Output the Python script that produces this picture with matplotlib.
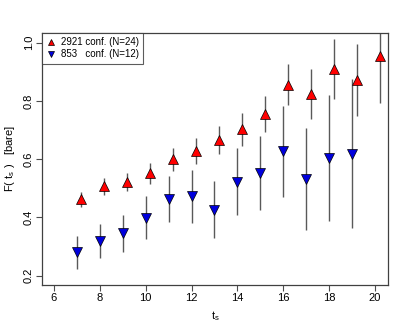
import matplotlib
matplotlib.use("Agg")
import matplotlib.pyplot as plt

plt.rcParams["font.family"] = ["Liberation Sans", "DejaVu Sans"]

# 2921 configurations, N=24
x_big = [7.2, 8.2, 9.2, 10.2, 11.2, 12.2, 13.2, 14.2, 15.2, 16.2, 17.2, 18.2, 19.2, 20.2]
y_big = [0.463, 0.507, 0.522, 0.551, 0.599, 0.629, 0.666, 0.702, 0.754, 0.855, 0.823, 0.910, 0.871, 0.955]
e_big = [0.026, 0.030, 0.031, 0.035, 0.040, 0.045, 0.048, 0.056, 0.062, 0.070, 0.085, 0.104, 0.124, 0.161]

# 853 configurations, N=12
x_small = [7, 8, 9, 10, 11, 12, 13, 14, 15, 16, 17, 18, 19]
y_small = [0.280, 0.318, 0.345, 0.399, 0.464, 0.472, 0.426, 0.523, 0.552, 0.627, 0.532, 0.603, 0.619]
e_small = [0.057, 0.058, 0.064, 0.074, 0.079, 0.092, 0.098, 0.115, 0.127, 0.156, 0.175, 0.216, 0.256]

fig = plt.figure(figsize=(4.09, 3.27), dpi=100)
ax = fig.add_axes([0.1027, 0.1284, 0.846, 0.7706])

ax.errorbar(x_big, y_big, yerr=e_big, fmt="none", ecolor="0.35", elinewidth=1.0, capsize=0)
ax.errorbar(x_small, y_small, yerr=e_small, fmt="none", ecolor="0.35", elinewidth=1.0, capsize=0)
ax.plot(x_big, y_big, "^", color="#ff0000", markeredgecolor="black", markeredgewidth=0.5,
        markersize=7.2, label="2921 conf. (N=24)")
ax.plot(x_small, y_small, "v", color="#0000dd", markeredgecolor="black", markeredgewidth=0.5,
        markersize=7.6, label="853   conf. (N=12)")

ax.set_xlim(5.48, 20.57)
ax.set_ylim(0.168, 1.033)
ax.set_xticks([6, 8, 10, 12, 14, 16, 18, 20])
ax.set_yticks([0.2, 0.4, 0.6, 0.8, 1.0])
ax.set_yticklabels(["0.2", "0.4", "0.6", "0.8", "1.0"], rotation=90, va="center")
ax.tick_params(direction="out", length=4, width=0.8, labelsize=8, color="0.3", pad=2)

for s in ax.spines.values():
    s.set_color("0.25")
    s.set_linewidth(0.9)

ax.set_xlabel("t$_\\mathregular{s}$", fontsize=8, labelpad=4)
ax.set_ylabel("F( t$_\\mathregular{s}$ )   [bare]", fontsize=8, labelpad=5)

leg = ax.legend(loc="upper left", fontsize=7, frameon=True, fancybox=False,
                borderaxespad=0, handlelength=1.0, handletextpad=0.5, borderpad=0.45,
                labelspacing=0.2, markerscale=0.65)
leg.get_frame().set_edgecolor("0.2")
leg.get_frame().set_linewidth(0.8)

fig.savefig("out.png", dpi=100)
